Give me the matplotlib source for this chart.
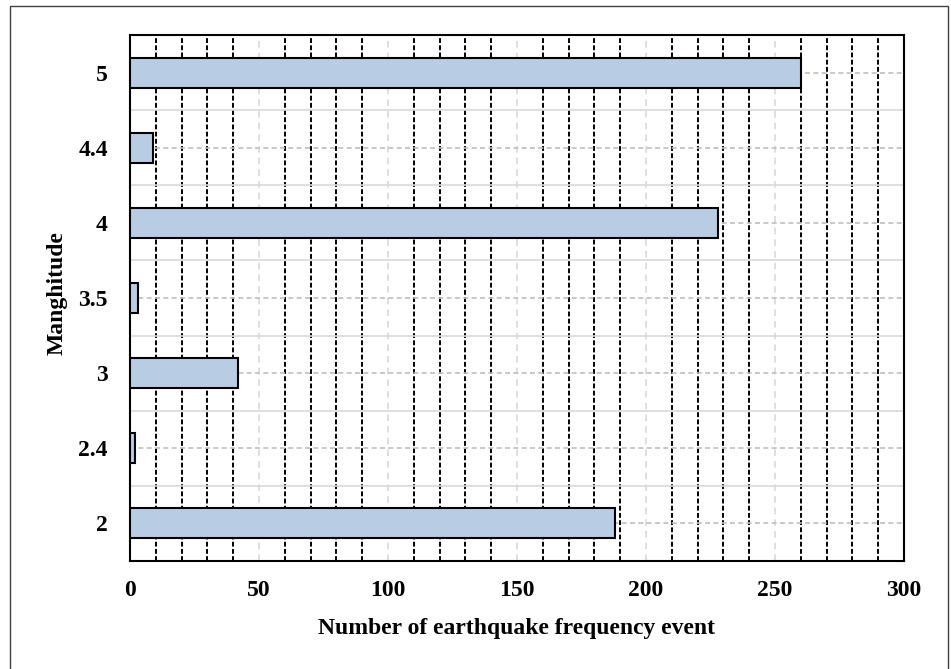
import matplotlib
matplotlib.use("Agg")
import matplotlib.pyplot as plt
from matplotlib.ticker import MultipleLocator
from matplotlib.patches import Rectangle

categories = ["2", "2.4", "3", "3.5", "4", "4.4", "5"]
values = [188, 2, 42, 3, 228, 9, 260]
x_ticks = [0, 50, 100, 150, 200, 250, 300]

plt.rcParams['font.family'] = ['Liberation Serif', 'DejaVu Serif']

fig = plt.figure(figsize=(9.51, 6.69), dpi=100)
ax = fig.add_axes([130/951, 1-561/669, (904-130)/951, (561-35)/669])

# outer border
fig.patches.append(Rectangle((10/951, -0.01), (948-10)/951, 1.01-6/669,
                             transform=fig.transFigure, fill=False,
                             edgecolor='#404040', linewidth=1.0))

pos = list(range(len(categories)))
ax.barh(pos, values, height=0.4, color='#b8cce4', edgecolor='black',
        linewidth=1.5, zorder=3)

ax.set_xlim(0, 300)
ax.set_ylim(-0.5, len(categories) - 0.5)
ax.set_xticks(x_ticks)
ax.set_xticklabels([str(t) for t in x_ticks])
ax.xaxis.set_minor_locator(MultipleLocator(10))
ax.set_yticks(pos)
ax.set_yticklabels(categories)
ax.set_yticks([p + 0.5 for p in pos[:-1]], minor=True)

ax.grid(which='major', axis='x', color='#d9d9d9', linestyle=(0, (4, 3)), linewidth=1.2, zorder=1)
ax.grid(which='minor', axis='x', color='black', linestyle=(0, (2.5, 1.2)), linewidth=1.4, zorder=2)
ax.grid(which='major', axis='y', color='#bfbfbf', linestyle=(0, (3, 2)), linewidth=1.2, zorder=1)
ax.grid(which='minor', axis='y', color='#d9d9d9', linestyle='-', linewidth=1.2, zorder=1)
ax.set_axisbelow(True)

ax.tick_params(which='both', length=0)
ax.tick_params(axis='x', pad=14, labelsize=17)
ax.tick_params(axis='y', pad=16, labelsize=17)
for lab in ax.get_xticklabels() + ax.get_yticklabels():
    lab.set_fontweight('bold')

for s in ax.spines.values():
    s.set_linewidth(1.5)
    s.set_color('black')

ax.set_xlabel('Number of earthquake frequency event', fontsize=17, fontweight='bold', labelpad=12)
ax.set_ylabel('Manghitude', fontsize=17, fontweight='bold')
ax.yaxis.set_label_coords(-0.08, 0.51)

fig.savefig('out.png', dpi=100)
